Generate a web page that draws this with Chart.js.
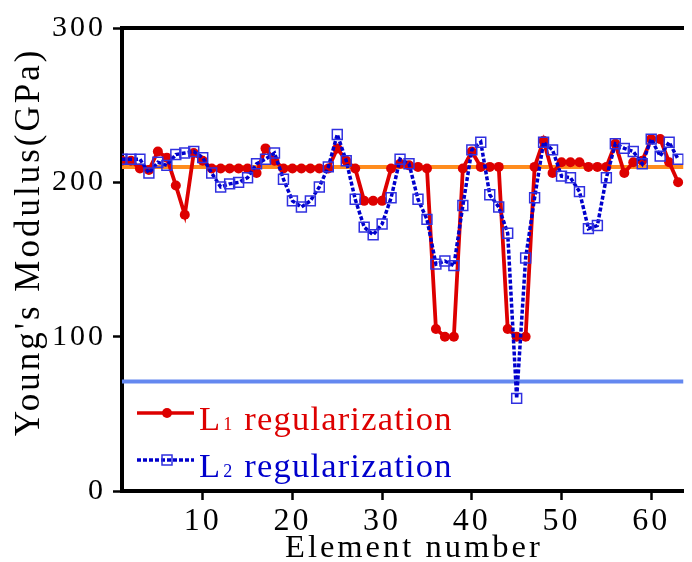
<!DOCTYPE html>
<html><head><meta charset="utf-8">
<script src="https://cdn.jsdelivr.net/npm/chart.js@4.4.1/dist/chart.umd.min.js"></script>
<style>
html,body{margin:0;padding:0;background:#fff;}
#wrap{position:relative;width:692px;height:562px;overflow:hidden;}
canvas{display:block;}
.lg{position:absolute;font-family:"Liberation Serif","Times New Roman",serif;font-size:34.5px;line-height:34px;letter-spacing:1.2px;white-space:nowrap;}
.lg .s{font-size:18px;letter-spacing:0;margin-left:2px;margin-right:12px;}
#sym{position:absolute;left:0;top:0;}
</style></head>
<body>
<div id="wrap">
<canvas id="c" width="692" height="562"></canvas>
<svg id="sym" width="692" height="562">
  <line x1="137" y1="413" x2="194" y2="413" stroke="#dd0000" stroke-width="3.5"/>
  <circle cx="167" cy="413" r="5" fill="#dd0000"/>
  <line x1="137" y1="460" x2="194" y2="460" stroke="#0000cc" stroke-width="3.5" stroke-dasharray="4 2"/>
  <rect x="162" y="455" width="10" height="10" fill="none" stroke="#3030e0" stroke-width="1.5"/>
</svg>
<div class="lg" style="left:199px;top:401px;color:#dd0000">L<span class="s">1</span>regularization</div>
<div class="lg" style="left:199px;top:448px;color:#0000cc">L<span class="s">2</span>regularization</div>
</div>
<script>
const elements = [1,2,3,4,5,6,7,8,9,10,11,12,13,14,15,16,17,18,19,20,21,22,23,24,25,26,27,28,29,30,31,32,33,34,35,36,37,38,39,40,41,42,43,44,45,46,47,48,49,50,51,52,53,54,55,56,57,58,59,60,61,62,63];
const l1Values = [214,214,209,208,220,216,198,179,219,214,209,209,209,209,209,206,222,214,209,209,209,209,209,209,222,214,209,188,188,188,209,212,211,210,209,105,100,100,209,220,210,210,210,105,100,100,210,227,206,213,213,213,210,210,210,225,206,213,214,228,228,213,200];
const l2Values = [215,215,215,206,213,211,218,219,220,216,206,197,199,200,203,212,215,219,202,188,184,188,197,210,231,214,189,171,166,173,190,215,212,189,176,147,149,146,185,221,226,192,184,167,60,151,190,226,221,204,203,194,170,172,203,225,222,220,212,228,217,226,215];
const refX = [1, 63.6];
const upperRef = [210, 210];
const lowerRef = [71, 71];
const xTicks = [10,20,30,40,50,60];
const yTicks = [0,100,200,300];

const pts = (xs, ys) => xs.map((x, i) => ({x, y: ys[i]}));
const SERIF = '"Liberation Serif","Times New Roman",serif';

const spacing = {
  id: 'spacing',
  beforeUpdate(chart){ chart.ctx.letterSpacing = '3px'; },
  beforeLayout(chart){ chart.ctx.letterSpacing = '3px'; },
  beforeDraw(chart){ chart.ctx.letterSpacing = '3px'; }
};

const axisCommon = {
  border: {display: true, color: '#000', width: 4},
  grid: {display: true, drawOnChartArea: false, drawTicks: true, tickLength: 9, tickWidth: 2.5, tickColor: '#000'}
};

new Chart(document.getElementById('c'), {
  type: 'line',
  data: {
    datasets: [
      {label: 'ref210', data: pts(refX, upperRef), borderColor: '#ff8c1e', borderWidth: 4, pointRadius: 0, order: 4},
      {label: 'ref70', data: pts(refX, lowerRef), borderColor: '#6488f0', borderWidth: 4, pointRadius: 0, order: 4},
      {label: 'L1 regularization', data: pts(elements, l1Values), borderColor: '#dd0000', borderWidth: 3.8,
       pointStyle: 'circle', pointRadius: 5, pointBackgroundColor: '#dd0000', pointBorderWidth: 0, order: 2},
      {label: 'L2 regularization', data: pts(elements, l2Values), borderColor: '#0000cc', borderWidth: 3.5, borderDash: [4, 2],
       pointStyle: 'rect', pointRadius: 7, pointBackgroundColor: 'rgba(0,0,0,0)', pointBorderColor: '#3030e0', pointBorderWidth: 1.5, order: 1}
    ]
  },
  options: {
    responsive: false, animation: false, devicePixelRatio: 1,
    layout: {padding: 0},
    plugins: {legend: {display: false}, tooltip: {enabled: false}},
    scales: {
      x: Object.assign({}, axisCommon, {
        type: 'linear', position: 'bottom', min: 1, max: 63.6,
        afterBuildTicks: s => { s.ticks = xTicks.map(v => ({value: v})); },
        afterFit: s => { s.height = 71; },
        ticks: {color: '#000', font: {family: SERIF, size: 32}, padding: 2, maxRotation: 0, autoSkip: false},
        title: {display: true, text: '  Element number', color: '#000', font: {family: SERIF, size: 32.5, lineHeight: 0.85}, padding: 0}
      }),
      x2: {
        type: 'linear', position: 'top', min: 1, max: 63.6,
        border: {display: true, color: '#000', width: 4},
        grid: {display: false, drawTicks: false},
        ticks: {display: false},
        afterFit: s => { s.height = 28; }
      },
      y: Object.assign({}, axisCommon, {
        type: 'linear', position: 'left', min: 0, max: 300,
        afterBuildTicks: s => { s.ticks = yTicks.map(v => ({value: v})); },
        afterFit: s => { s.width = 122; },
        ticks: {color: '#000', font: {family: SERIF, size: 30}, padding: 7},
        title: {display: true, text: "   Young's Modulus(GPa)", color: '#000', font: {family: SERIF, size: 35, lineHeight: 1.2}, padding: {top: 9, bottom: 0}}
      })
    }
  },
  plugins: [spacing]
});
</script>
</body></html>
